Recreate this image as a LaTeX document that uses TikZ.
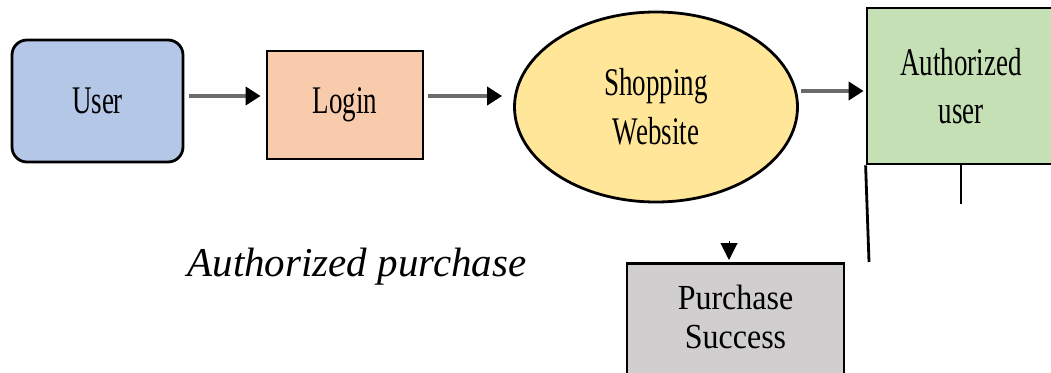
\documentclass[tikz,border=0pt]{standalone}
\usepackage{fontspec}
\setmainfont{Liberation Serif}
\usepackage{graphicx}
\usetikzlibrary{shapes.geometric,arrows.meta}

\definecolor{userblue}{HTML}{B4C7E7}
\definecolor{loginpeach}{HTML}{F8CBAD}
\definecolor{shopyellow}{HTML}{FFE699}
\definecolor{authgreen}{HTML}{C5E0B4}
\definecolor{buygray}{HTML}{D0CECE}

% tall, narrow lettering used inside the boxes
\newcommand{\tallword}[1]{\scalebox{1}[1.45]{#1}}
\newcommand{\midword}[1]{\scalebox{1}[1.1]{#1}}

\begin{document}
\begin{tikzpicture}[x=1pt,y=-1pt,
  box/.style={draw=black,line width=2.8pt,inner sep=0pt,align=center,
              font=\fontsize{27}{48}\selectfont},
  flow/.style={draw=black!58,line width=4pt,
               -{Triangle[length=15pt,width=18pt,black]}},
  droptip/.style={draw=black,line width=1pt,
               -{Triangle[length=17pt,width=17pt,black]}},
  leg/.style={draw=black,line width=2.8pt}]
\useasboundingbox (0,0) rectangle (1051,372);
\clip (0,0) rectangle (1051,372);

% main flow
\node[box,rounded corners=15pt,fill=userblue,minimum width=171pt,minimum height=122pt]
  (user) at (97.5,101) {\tallword{User}};
\node[box,fill=loginpeach,minimum width=156pt,minimum height=108pt]
  (login) at (345,105) {\tallword{Login}};
\node[box,ellipse,fill=shopyellow,minimum width=283pt,minimum height=190pt,
      font=\fontsize{27}{49}\selectfont]
  (shop) at (656,107) {\tallword{Shopping}\\\tallword{Website}};
\node[box,fill=authgreen,minimum width=188pt,minimum height=156pt]
  (auth) at (961,86) {\tallword{Authorized}\\\tallword{user}};
\node[box,fill=buygray,anchor=north,minimum width=217pt,inner ysep=22pt,
      text depth=30pt,font=\fontsize{32}{39}\selectfont]
  (buy) at (735.5,262) {\midword{Purchase}\\\midword{Success}};

% caption
\node[font=\fontsize{41}{48}\selectfont\itshape] (caption) at (357,267) {Authorized purchase};

% connectors
\draw[flow,shorten <=5pt,shorten >=5pt] (user.east |- 0,96) -- (login.west |- 0,96);
\draw[flow,shorten <=4pt,shorten >=11pt] (login.east |- 0,96) -- (shop.west |- 0,96);
\draw[flow,shorten <=2pt,shorten >=2pt] (shop.east |- 0,91) -- (auth.west |- 0,91);

\coordinate (drop) at (729,241);
\draw[droptip,shorten >=2pt] (drop) -- (buy.north -| drop);

% lines hanging below the authorized-user box
\coordinate (legfoot) at (869,262);
\coordinate (stubfoot) at (961,204);
\draw[leg] (auth.south west) -- (legfoot);
\draw[leg] (auth.south) -- (stubfoot);
\end{tikzpicture}
\end{document}
